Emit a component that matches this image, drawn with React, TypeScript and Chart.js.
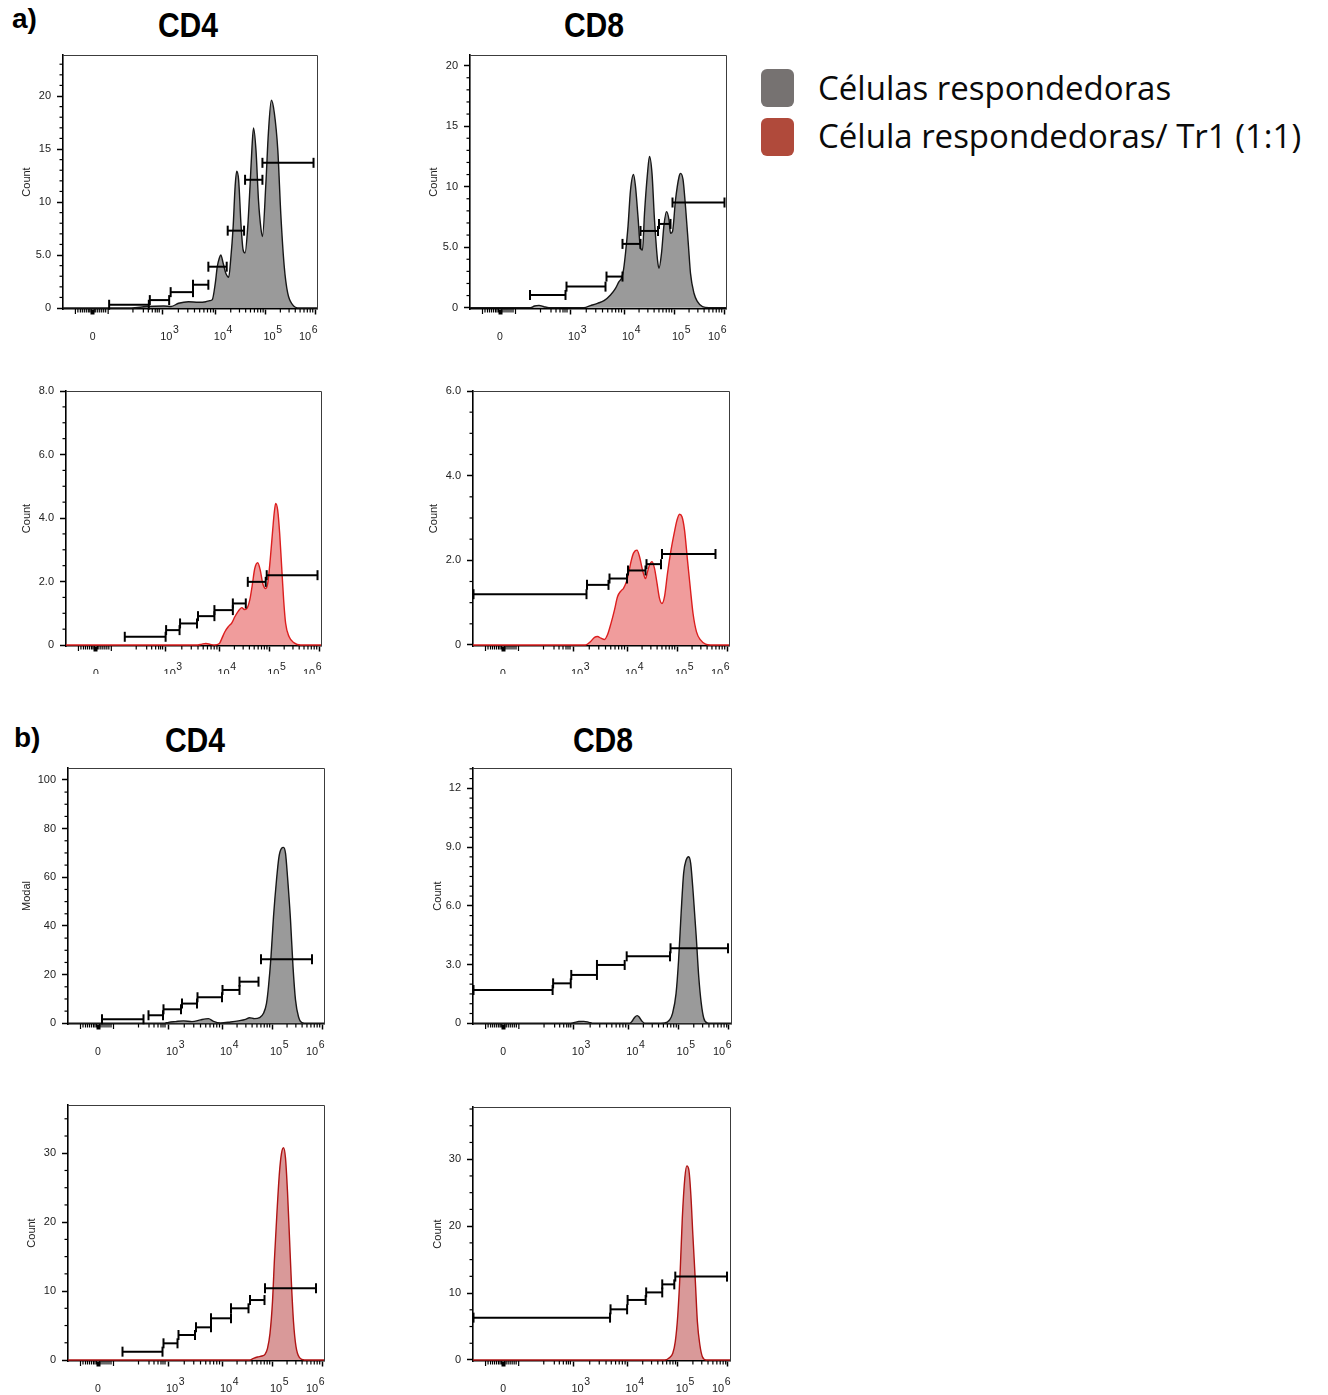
import React, { useEffect, useRef } from "react";
import { Chart, registerables } from "chart.js";

Chart.register(...registerables);

const FONT = "'Liberation Sans', Arial, Helvetica, sans-serif";
Chart.defaults.font.family = FONT;

// ---------- x axis (biexponential display units) ----------
const X_MIN = 0.92;
const X_MAX = 6.04;
const X_MAJOR = [1.52, 2.92, 4, 5, 6];
const X_MAJOR_LABEL = ["0", "3", "4", "5", "6"];
const X_BIEX_MINOR = [1.22, 1.27, 1.31, 1.35, 1.39, 1.43, 1.46, 1.49, 1.55, 1.58, 1.62, 1.66, 1.7, 1.74, 1.78];
const X_BIEX_MID = [1.17, 1.83];
const X_LOW_MINOR = [2.33, 2.54, 2.64, 2.72, 2.78, 2.82, 2.86];
const X_DECADES = [
  [2.92, 4],
  [4, 5],
  [5, 6],
];

// ---------- a) CD4, responder cells ----------
const A_CD4_RESP_X = [0.92, 2.3, 2.6, 2.95, 3.1, 3.25, 3.45, 3.65, 3.8, 3.88, 3.93, 3.99, 4.03, 4.07, 4.1, 4.15, 4.2, 4.26, 4.3, 4.35, 4.39, 4.42, 4.46, 4.51, 4.55, 4.59, 4.64, 4.69, 4.73, 4.76, 4.81, 4.86, 4.91, 4.94, 5.01, 5.06, 5.12, 5.18, 5.25, 5.31, 5.38, 5.45, 5.55, 5.68, 6.04];
const A_CD4_RESP_Y = [0, 0, 0.15, 0.2, 0.15, 0.45, 0.6, 0.55, 0.6, 0.7, 0.8, 2.35, 3.9, 4.7, 5.0, 4.2, 3.3, 2.9, 4.55, 7.7, 11.5, 12.9, 12.1, 7.7, 5.5, 5.2, 7.4, 11.5, 15.2, 17.0, 14.9, 10.2, 7.5, 6.75, 11.8, 16.5, 19.6, 18.4, 14.9, 8.9, 3.9, 1.4, 0.3, 0, 0];
const A_CD4_RESP_GATE_FROM = [1.85, 2.67, 3.09, 3.54, 3.85, 4.24, 4.59, 4.94];
const A_CD4_RESP_GATE_TO = [2.65, 3.06, 3.54, 3.85, 4.22, 4.57, 4.94, 5.97];
const A_CD4_RESP_GATE_Y = [0.31, 0.75, 1.5, 2.2, 3.9, 7.3, 12.1, 13.7];
const A_CD4_RESP_TICKS = [0, 5, 10, 15, 20];
const A_CD4_RESP_TICK_LABELS = ["0", "5.0", "10", "15", "20"];

// ---------- a) CD8, responder cells ----------
const A_CD8_RESP_X = [0.92, 2.13, 2.21, 2.3, 2.4, 2.5, 3.2, 3.33, 3.47, 3.6, 3.73, 3.83, 3.9, 3.95, 3.99, 4.03, 4.08, 4.13, 4.19, 4.23, 4.28, 4.33, 4.37, 4.41, 4.47, 4.51, 4.56, 4.61, 4.67, 4.7, 4.75, 4.8, 4.85, 4.9, 4.93, 4.97, 5.03, 5.1, 5.13, 5.18, 5.23, 5.29, 5.33, 5.4, 5.47, 5.57, 5.7, 6.04];
const A_CD8_RESP_Y = [0, 0, 0.14, 0.19, 0.08, 0, 0, 0.17, 0.36, 0.58, 1.05, 1.6, 2.15, 2.43, 3.12, 4.5, 6.7, 9.7, 11.0, 10.0, 7.5, 4.9, 4.77, 7.8, 11.1, 12.5, 11.1, 7.26, 3.94, 3.26, 4.5, 6.84, 7.94, 7.26, 6.15, 6.3, 8.9, 10.8, 11.1, 10.6, 8.36, 5.05, 2.84, 1.19, 0.5, 0.08, 0, 0];
const A_CD8_RESP_GATE_FROM = [2.12, 2.85, 3.65, 3.97, 4.33, 4.7, 4.97];
const A_CD8_RESP_GATE_TO = [2.83, 3.63, 3.97, 4.33, 4.68, 4.93, 6.01];
const A_CD8_RESP_GATE_Y = [1.05, 1.74, 2.57, 5.27, 6.34, 6.92, 8.69];
const A_CD8_RESP_TICKS = [0, 5, 10, 15, 20];
const A_CD8_RESP_TICK_LABELS = ["0", "5.0", "10", "15", "20"];

// ---------- a) CD4, responder cells / Tr1 ----------
const A_CD4_TR1_X = [0.92, 3.57, 3.65, 3.73, 3.82, 3.9, 4.0, 4.05, 4.11, 4.18, 4.25, 4.31, 4.38, 4.45, 4.5, 4.55, 4.61, 4.66, 4.71, 4.77, 4.82, 4.87, 4.93, 4.97, 5.02, 5.07, 5.1, 5.13, 5.17, 5.21, 5.25, 5.29, 5.33, 5.4, 5.5, 5.63, 6.04];
const A_CD4_TR1_Y = [0, 0, 0.03, 0.05, 0.02, 0, 0.05, 0.21, 0.42, 0.58, 0.7, 0.89, 1.07, 1.18, 1.12, 1.15, 1.42, 1.89, 2.41, 2.59, 2.36, 1.94, 1.78, 1.94, 2.68, 3.62, 4.15, 4.46, 4.25, 3.52, 2.47, 1.42, 0.68, 0.26, 0.07, 0, 0];
const A_CD4_TR1_GATE_FROM = [2.1, 2.93, 3.21, 3.57, 3.9, 4.27, 4.57, 4.95];
const A_CD4_TR1_GATE_TO = [2.92, 3.2, 3.55, 3.9, 4.27, 4.53, 4.93, 5.97];
const A_CD4_TR1_GATE_Y = [0.26, 0.47, 0.68, 0.91, 1.1, 1.31, 1.99, 2.2];
const A_CD4_TR1_TICKS = [0, 2, 4, 6, 8];
const A_CD4_TR1_TICK_LABELS = ["0", "2.0", "4.0", "6.0", "8.0"];

// ---------- a) CD8, responder cells / Tr1 ----------
const A_CD8_TR1_X = [0.92, 3.17, 3.27, 3.35, 3.41, 3.48, 3.55, 3.61, 3.68, 3.75, 3.81, 3.88, 3.93, 3.99, 4.03, 4.08, 4.13, 4.2, 4.25, 4.31, 4.37, 4.41, 4.45, 4.5, 4.55, 4.6, 4.65, 4.7, 4.75, 4.81, 4.88, 4.95, 5.0, 5.05, 5.1, 5.15, 5.21, 5.27, 5.32, 5.39, 5.47, 5.57, 5.67, 6.04];
const A_CD8_TR1_Y = [0, 0, 0.08, 0.18, 0.2, 0.16, 0.13, 0.24, 0.51, 0.83, 1.14, 1.28, 1.34, 1.5, 1.69, 1.97, 2.17, 2.24, 2.09, 1.77, 1.57, 1.73, 1.89, 1.97, 1.81, 1.46, 1.1, 0.98, 1.14, 1.69, 2.24, 2.68, 2.95, 3.09, 3.03, 2.72, 2.0, 1.3, 0.75, 0.31, 0.12, 0.02, 0, 0];
const A_CD8_TR1_GATE_FROM = [0.93, 3.2, 3.65, 4.02, 4.39, 4.7];
const A_CD8_TR1_GATE_TO = [3.19, 3.63, 4.0, 4.37, 4.68, 5.77];
const A_CD8_TR1_GATE_Y = [1.2, 1.42, 1.57, 1.76, 1.91, 2.15];
const A_CD8_TR1_TICKS = [0, 2, 4, 6];
const A_CD8_TR1_TICK_LABELS = ["0", "2.0", "4.0", "6.0"];

// ---------- b) CD4, responder cells ----------
const B_CD4_RESP_X = [0.92, 2.83, 2.93, 3.07, 3.23, 3.4, 3.57, 3.67, 3.73, 3.83, 3.97, 4.17, 4.33, 4.47, 4.55, 4.65, 4.75, 4.83, 4.89, 4.93, 4.98, 5.03, 5.09, 5.14, 5.19, 5.23, 5.27, 5.31, 5.37, 5.42, 5.47, 5.53, 5.6, 5.7, 6.04];
const B_CD4_RESP_Y = [0, 0, 0.4, 0.7, 1.0, 0.7, 1.4, 1.8, 1.9, 0.8, 0.15, 0.55, 1.0, 1.6, 2.3, 1.9, 2.3, 4.1, 8.2, 15.1, 27.4, 43.8, 58.9, 68.5, 71.9, 72.3, 69.9, 60.3, 42.5, 23.3, 9.6, 2.7, 0.3, 0, 0];
const B_CD4_RESP_GATE_FROM = [1.6, 2.53, 2.83, 3.2, 3.51, 4.01, 4.35, 4.78];
const B_CD4_RESP_GATE_TO = [2.43, 2.82, 3.18, 3.5, 4.0, 4.35, 4.73, 5.8];
const B_CD4_RESP_GATE_Y = [1.64, 3.3, 5.75, 8.1, 10.7, 13.7, 17.1, 26.3];
const B_CD4_RESP_TICKS = [0, 20, 40, 60, 80, 100];
const B_CD4_RESP_TICK_LABELS = ["0", "20", "40", "60", "80", "100"];

// ---------- b) CD8, responder cells ----------
const B_CD8_RESP_X = [0.92, 2.82, 2.92, 3.02, 3.12, 3.22, 3.31, 4.03, 4.08, 4.13, 4.18, 4.22, 4.27, 4.33, 4.72, 4.82, 4.88, 4.95, 5.0, 5.05, 5.1, 5.15, 5.2, 5.24, 5.29, 5.35, 5.4, 5.45, 5.5, 5.57, 5.63, 6.04];
const B_CD8_RESP_Y = [0, 0, 0.03, 0.09, 0.1, 0.05, 0, 0, 0.12, 0.31, 0.39, 0.31, 0.12, 0, 0.02, 0.17, 0.51, 1.53, 3.23, 5.62, 7.66, 8.34, 8.51, 8.17, 6.64, 4.43, 2.38, 1.02, 0.26, 0.02, 0, 0];
const B_CD8_RESP_GATE_FROM = [0.93, 2.51, 2.87, 3.38, 3.97, 4.84];
const B_CD8_RESP_GATE_TO = [2.5, 2.86, 3.38, 3.93, 4.83, 5.98];
const B_CD8_RESP_GATE_Y = [1.7, 2.04, 2.47, 2.98, 3.42, 3.83];
const B_CD8_RESP_TICKS = [0, 3, 6, 9, 12];
const B_CD8_RESP_TICK_LABELS = ["0", "3.0", "6.0", "9.0", "12"];

// ---------- b) CD4, responder cells / Tr1 ----------
const B_CD4_TR1_X = [0.92, 4.55, 4.63, 4.71, 4.8, 4.86, 4.91, 4.96, 5.01, 5.05, 5.1, 5.15, 5.19, 5.23, 5.27, 5.31, 5.35, 5.39, 5.43, 5.48, 5.55, 5.65, 6.04];
const B_CD4_TR1_Y = [0, 0, 0.24, 0.44, 0.58, 0.82, 1.69, 3.87, 8.47, 14.76, 21.5, 27.3, 29.99, 30.8, 29.3, 24.4, 17.7, 10.9, 5.56, 1.94, 0.34, 0, 0];
const B_CD4_TR1_GATE_FROM = [2.01, 2.83, 3.13, 3.48, 3.78, 4.18, 4.56, 4.86];
const B_CD4_TR1_GATE_TO = [2.81, 3.11, 3.46, 3.78, 4.18, 4.53, 4.85, 5.88];
const B_CD4_TR1_GATE_Y = [1.21, 2.42, 3.63, 4.74, 6.05, 7.5, 8.7, 10.4];
const B_CD4_TR1_TICKS = [0, 10, 20, 30];
const B_CD4_TR1_TICK_LABELS = ["0", "10", "20", "30"];

// ---------- b) CD8, responder cells / Tr1 ----------
const B_CD8_TR1_X = [0.92, 4.74, 4.82, 4.9, 4.95, 5.0, 5.05, 5.09, 5.14, 5.18, 5.22, 5.26, 5.3, 5.35, 5.39, 5.44, 5.49, 5.57, 6.04];
const B_CD8_TR1_Y = [0, 0, 0.25, 1.0, 2.74, 6.73, 13.7, 21.2, 27.2, 29.0, 28.4, 24.7, 18.7, 11.7, 5.73, 2.24, 0.5, 0, 0];
const B_CD8_TR1_GATE_FROM = [0.93, 3.66, 4.0, 4.37, 4.69, 4.95];
const B_CD8_TR1_GATE_TO = [3.65, 3.99, 4.36, 4.69, 4.93, 5.98];
const B_CD8_TR1_GATE_Y = [6.33, 7.57, 8.97, 10.1, 11.3, 12.46];
const B_CD8_TR1_TICKS = [0, 10, 20, 30];
const B_CD8_TR1_TICK_LABELS = ["0", "10", "20", "30"];

// ---------- styles ----------
const GRAY = { line: "#161616", fill: "#9a9a9a" };
const RED_A = { line: "#dc1e1e", fill: "#f09c9c" };
const RED_B = { line: "#b01414", fill: "#d99999" };

type PanelCfg = {
  key: string;
  xs: number[];
  ys: number[];
  gFrom: number[];
  gTo: number[];
  gY: number[];
  ticks: number[];
  tickLabels: string[];
  yMin: number;
  yMax: number;
  yMinorStep: number;
  yTitle: string;
  style: { line: string; fill: string };
  box: [number, number, number, number];
  titleX: number;
  bottom: number;
};

const PANELS: PanelCfg[] = [
  { key: "aCD4resp", xs: A_CD4_RESP_X, ys: A_CD4_RESP_Y, gFrom: A_CD4_RESP_GATE_FROM, gTo: A_CD4_RESP_GATE_TO, gY: A_CD4_RESP_GATE_Y, ticks: A_CD4_RESP_TICKS, tickLabels: A_CD4_RESP_TICK_LABELS, yMin: -0.09, yMax: 23.87, yMinorStep: 1, yTitle: "Count", style: GRAY, box: [63, 55, 317, 309], titleX: 27, bottom: 345 },
  { key: "aCD8resp", xs: A_CD8_RESP_X, ys: A_CD8_RESP_Y, gFrom: A_CD8_RESP_GATE_FROM, gTo: A_CD8_RESP_GATE_TO, gY: A_CD8_RESP_GATE_Y, ticks: A_CD8_RESP_TICKS, tickLabels: A_CD8_RESP_TICK_LABELS, yMin: -0.11, yMax: 20.88, yMinorStep: 1, yTitle: "Count", style: GRAY, box: [470, 55, 726, 309], titleX: 434, bottom: 345 },
  { key: "aCD4tr1", xs: A_CD4_TR1_X, ys: A_CD4_TR1_Y, gFrom: A_CD4_TR1_GATE_FROM, gTo: A_CD4_TR1_GATE_TO, gY: A_CD4_TR1_GATE_Y, ticks: A_CD4_TR1_TICKS, tickLabels: A_CD4_TR1_TICK_LABELS, yMin: -0.03, yMax: 8.0, yMinorStep: 0.5, yTitle: "Count", style: RED_A, box: [66, 391, 321, 646], titleX: 27, bottom: 674 },
  { key: "aCD8tr1", xs: A_CD8_TR1_X, ys: A_CD8_TR1_Y, gFrom: A_CD8_TR1_GATE_FROM, gTo: A_CD8_TR1_GATE_TO, gY: A_CD8_TR1_GATE_Y, ticks: A_CD8_TR1_TICKS, tickLabels: A_CD8_TR1_TICK_LABELS, yMin: -0.024, yMax: 6.0, yMinorStep: 0.5, yTitle: "Count", style: RED_A, box: [473, 391, 729, 646], titleX: 434, bottom: 674 },
  { key: "bCD4resp", xs: B_CD4_RESP_X, ys: B_CD4_RESP_Y, gFrom: B_CD4_RESP_GATE_FROM, gTo: B_CD4_RESP_GATE_TO, gY: B_CD4_RESP_GATE_Y, ticks: B_CD4_RESP_TICKS, tickLabels: B_CD4_RESP_TICK_LABELS, yMin: -0.29, yMax: 104.9, yMinorStep: 5, yTitle: "Modal", style: GRAY, box: [68, 768, 324, 1024], titleX: 27, bottom: 1060 },
  { key: "bCD8resp", xs: B_CD8_RESP_X, ys: B_CD8_RESP_Y, gFrom: B_CD8_RESP_GATE_FROM, gTo: B_CD8_RESP_GATE_TO, gY: B_CD8_RESP_GATE_Y, ticks: B_CD8_RESP_TICKS, tickLabels: B_CD8_RESP_TICK_LABELS, yMin: -0.036, yMax: 13.04, yMinorStep: 0.5, yTitle: "Count", style: GRAY, box: [473, 768, 731, 1024], titleX: 438, bottom: 1060 },
  { key: "bCD4tr1", xs: B_CD4_TR1_X, ys: B_CD4_TR1_Y, gFrom: B_CD4_TR1_GATE_FROM, gTo: B_CD4_TR1_GATE_TO, gY: B_CD4_TR1_GATE_Y, ticks: B_CD4_TR1_TICKS, tickLabels: B_CD4_TR1_TICK_LABELS, yMin: -0.145, yMax: 37.0, yMinorStep: 2.5, yTitle: "Count", style: RED_B, box: [68, 1105, 324, 1361], titleX: 32, bottom: 1395 },
  { key: "bCD8tr1", xs: B_CD8_TR1_X, ys: B_CD8_TR1_Y, gFrom: B_CD8_TR1_GATE_FROM, gTo: B_CD8_TR1_GATE_TO, gY: B_CD8_TR1_GATE_Y, ticks: B_CD8_TR1_TICKS, tickLabels: B_CD8_TR1_TICK_LABELS, yMin: -0.15, yMax: 37.8, yMinorStep: 2.5, yTitle: "Count", style: RED_B, box: [473, 1107, 730, 1361], titleX: 438, bottom: 1395 },
];

const TITLE_FONT_SIZE = 11;
const PAD_TOP = 14;
const PAD_RIGHT = 8;

function xMinorTicks(): number[] {
  const out: number[] = [...X_BIEX_MINOR, ...X_LOW_MINOR];
  for (const [a, b] of X_DECADES) {
    for (let m = 2; m <= 9; m++) out.push(a + (b - a) * Math.log10(m));
  }
  return out;
}
const X_MINOR = xMinorTicks();

const axisExtras = {
  id: "axisExtras",
  afterDraw(chart: any, _args: any, opts: any) {
    const { ctx, chartArea: ca } = chart;
    const xs = chart.scales.x;
    const ys = chart.scales.y;
    ctx.save();
    // frame (top / right)
    ctx.strokeStyle = "#3c3c3c";
    ctx.lineWidth = 1;
    ctx.beginPath();
    ctx.moveTo(ca.left, Math.round(ca.top) + 0.5);
    ctx.lineTo(Math.round(ca.right) + 0.5, Math.round(ca.top) + 0.5);
    ctx.lineTo(Math.round(ca.right) + 0.5, ca.bottom);
    ctx.stroke();

    // x minor ticks
    ctx.strokeStyle = "#000";
    ctx.lineWidth = 1.2;
    const drawX = (v: number, len: number) => {
      const px = xs.getPixelForValue(v);
      ctx.beginPath();
      ctx.moveTo(px, ca.bottom);
      ctx.lineTo(px, ca.bottom + len);
      ctx.stroke();
    };
    X_MINOR.forEach((v) => drawX(v, 3.5));
    X_BIEX_MID.forEach((v) => drawX(v, 5));

    // y minor ticks
    const step = opts.yMinorStep;
    const majors: number[] = opts.majors;
    for (let k = 1; k * step <= opts.yMax + 1e-9; k++) {
      const v = k * step;
      if (majors.some((m) => Math.abs(m - v) < 1e-6)) continue;
      const py = ys.getPixelForValue(v);
      ctx.beginPath();
      ctx.moveTo(ca.left - 3.5, py);
      ctx.lineTo(ca.left, py);
      ctx.stroke();
    }

    // x labels (10 with superscript exponent)
    const base = ca.bottom + 30.5;
    ctx.fillStyle = "#222";
    ctx.textBaseline = "alphabetic";
    X_MAJOR.forEach((v, i) => {
      const px = xs.getPixelForValue(v);
      if (i === 0) {
        ctx.font = `10.5px ${FONT}`;
        ctx.textAlign = "center";
        ctx.fillText(X_MAJOR_LABEL[0], px, base);
        return;
      }
      ctx.font = `11px ${FONT}`;
      const w10 = ctx.measureText("10").width;
      ctx.font = `10.5px ${FONT}`;
      const we = ctx.measureText(X_MAJOR_LABEL[i]).width;
      const left = i === X_MAJOR.length - 1 ? px + 2 - w10 - we : px - 2;
      ctx.textAlign = "left";
      ctx.font = `11px ${FONT}`;
      ctx.fillText("10", left, base);
      ctx.font = `10.5px ${FONT}`;
      ctx.fillText(X_MAJOR_LABEL[i], left + w10 + 0.5, base - 7);
    });
    ctx.restore();
  },
};

function geometry(p: PanelCfg) {
  const [bl, bt, br, bb] = p.box;
  const left = Math.round(p.titleX - (TITLE_FONT_SIZE * 1.2) / 2);
  const top = bt - PAD_TOP;
  const width = br + PAD_RIGHT - left;
  const height = p.bottom - top;
  return { left, top, width, height, yw: bl - left, xh: p.bottom - bb };
}

function Panel({ p }: { p: PanelCfg }) {
  const ref = useRef<HTMLCanvasElement | null>(null);
  const g = geometry(p);

  useEffect(() => {
    if (!ref.current) return;
    const hist = {
      data: p.xs.map((x, i) => ({ x, y: p.ys[i] })),
      borderColor: p.style.line,
      backgroundColor: p.style.fill,
      borderWidth: 1.4,
      fill: "origin",
      pointRadius: 0,
      cubicInterpolationMode: "monotone",
      order: 2,
    };
    const gates = p.gFrom.map((from, i) => ({
      data: [
        { x: from, y: p.gY[i] },
        { x: p.gTo[i], y: p.gY[i] },
      ],
      borderColor: "#000",
      borderWidth: 2,
      pointStyle: "line",
      pointRotation: 90,
      pointRadius: 5,
      pointBorderColor: "#000",
      pointBorderWidth: 2,
      pointBackgroundColor: "#000",
      fill: false,
      clip: false,
      tension: 0,
      order: 1,
    }));

    const chart = new Chart(ref.current, {
      type: "line",
      data: { datasets: [hist, ...gates] as any },
      options: {
        responsive: false,
        animation: false,
        devicePixelRatio: 1,
        events: [],
        layout: { padding: { left: 0, top: PAD_TOP, right: PAD_RIGHT, bottom: 0 } },
        plugins: {
          legend: { display: false },
          tooltip: { enabled: false },
          axisExtras: { yMinorStep: p.yMinorStep, yMax: p.yMax, majors: p.ticks },
        } as any,
        scales: {
          x: {
            type: "linear",
            min: X_MIN,
            max: X_MAX,
            afterFit: (s: any) => {
              s.height = g.xh;
            },
            afterBuildTicks: (s: any) => {
              s.ticks = X_MAJOR.map((v) => ({ value: v }));
            },
            ticks: { display: false },
            grid: {
              drawOnChartArea: false,
              drawTicks: true,
              tickLength: 5.5,
              tickWidth: (c: any) => (c.index === 0 ? 4 : 1.5),
              tickColor: "#000",
            },
            border: { display: true, color: "#000", width: 1.6 },
          },
          y: {
            type: "linear",
            min: p.yMin,
            max: p.yMax,
            afterFit: (s: any) => {
              s.width = g.yw;
            },
            afterBuildTicks: (s: any) => {
              s.ticks = p.ticks.map((v) => ({ value: v }));
            },
            ticks: {
              callback: (_v: any, i: number) => p.tickLabels[i],
              font: { size: 11, family: FONT },
              color: "#222",
              padding: 6,
              autoSkip: false,
            },
            grid: {
              drawOnChartArea: false,
              drawTicks: true,
              tickLength: 6,
              tickWidth: 1.5,
              tickColor: "#000",
            },
            border: { display: true, color: "#000", width: 1.6 },
            title: {
              display: true,
              text: p.yTitle,
              font: { size: TITLE_FONT_SIZE, family: FONT },
              color: "#222",
              padding: 0,
            },
          },
        },
      } as any,
      plugins: [axisExtras as any],
    });
    return () => chart.destroy();
  }, []);

  return (
    <canvas
      ref={ref}
      width={g.width}
      height={g.height}
      style={{ position: "absolute", left: g.left, top: g.top, width: g.width, height: g.height, display: "block" }}
    />
  );
}

function Text({ children, x, baseline, size, family, weight, align = "left", color = "#000", squeeze = 1 }: any) {
  const top = baseline - 0.8465 * size;
  const style: any = {
    position: "absolute",
    top,
    fontSize: size,
    lineHeight: 1,
    fontFamily: family,
    fontWeight: weight,
    color,
    whiteSpace: "nowrap",
  };
  if (align === "center") {
    style.left = x - 200;
    style.width = 400;
    style.textAlign = "center";
    style.transform = `scaleX(${squeeze})`;
    style.transformOrigin = "50% 50%";
  } else {
    style.left = x;
  }
  return <div style={style}>{children}</div>;
}

const LEGEND_LABELS = ["Células respondedoras", "Célula respondedoras/ Tr1 (1:1)"];
const LEGEND_COLORS = ["#767271", "#b04a3b"];

export default function App() {
  return (
    <div
      style={{
        position: "absolute",
        left: 0,
        top: 0,
        width: 1328,
        height: 1395,
        overflow: "hidden",
        background: "#fff",
      }}
    >
      <Text x={12} baseline={29} size={28} family={FONT} weight="bold">a)</Text>
      <Text x={188} baseline={37} size={35} family={FONT} weight="bold" align="center" squeeze={0.86}>CD4</Text>
      <Text x={594} baseline={37} size={35} family={FONT} weight="bold" align="center" squeeze={0.86}>CD8</Text>
      <Text x={14} baseline={748} size={28} family={FONT} weight="bold">b)</Text>
      <Text x={195} baseline={752} size={35} family={FONT} weight="bold" align="center" squeeze={0.86}>CD4</Text>
      <Text x={603} baseline={752} size={35} family={FONT} weight="bold" align="center" squeeze={0.86}>CD8</Text>

      {PANELS.map((p) => (
        <Panel key={p.key} p={p} />
      ))}

      {LEGEND_LABELS.map((label, i) => (
        <React.Fragment key={label}>
          <div
            style={{
              position: "absolute",
              left: 761,
              top: i === 0 ? 69 : 118,
              width: 33,
              height: 38,
              background: LEGEND_COLORS[i],
              borderRadius: 6,
            }}
          />
          <div
            style={{
              position: "absolute",
              left: 818,
              top: (i === 0 ? 100 : 148) - 0.888 * 33,
              fontSize: 33,
              lineHeight: 1,
              fontFamily: "'Open Sans', 'Noto Sans', sans-serif",
              color: "#0a0a0a",
              whiteSpace: "nowrap",
            }}
          >
            {label}
          </div>
        </React.Fragment>
      ))}
    </div>
  );
}
